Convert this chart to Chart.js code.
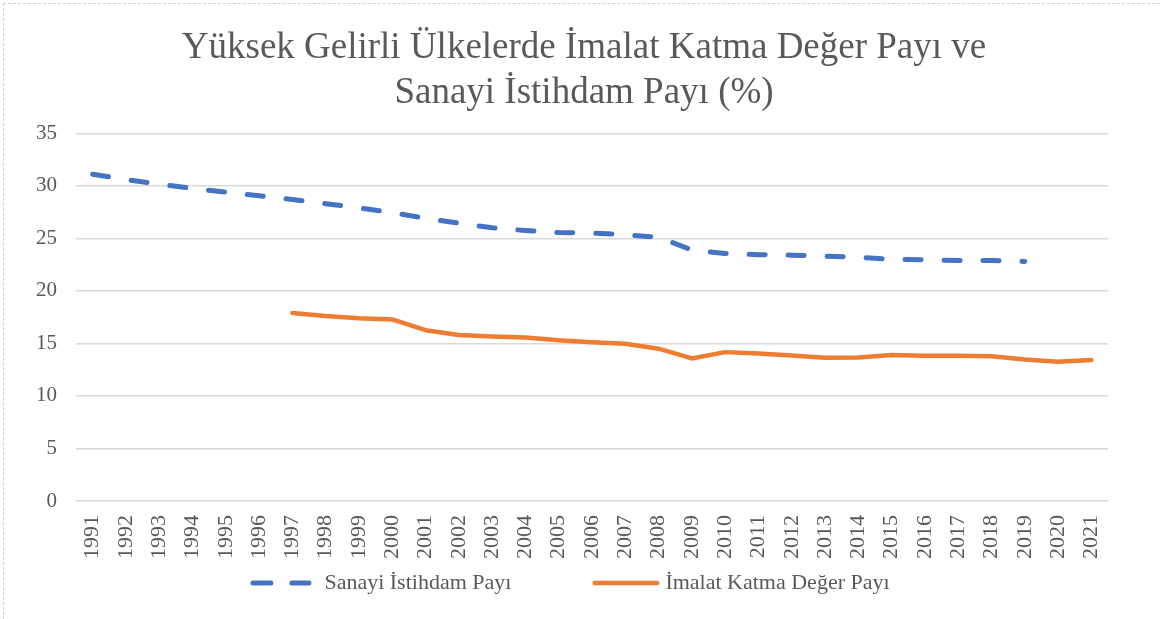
<!DOCTYPE html>
<html>
<head>
<meta charset="utf-8">
<script src="https://cdn.jsdelivr.net/npm/chart.js@4/dist/chart.umd.min.js"></script>
<style>
  html, body { margin: 0; padding: 0; background: #fff; overflow: hidden; }
  .wrap { position: relative; width: 1161px; height: 619px; }
  .frame { position: absolute; left: 3px; top: 3px; width: 1200px; height: 700px; border: 1px dashed #d0d0d0; }
  canvas { position: absolute; left: 0; top: 0; }
</style>
</head>
<body>
<div class="wrap">
  <div class="frame"></div>
  <canvas id="chart" width="1161" height="619"></canvas>
</div>
<script>
// Data
const years = ['1991','1992','1993','1994','1995','1996','1997','1998','1999','2000',
  '2001','2002','2003','2004','2005','2006','2007','2008','2009','2010',
  '2011','2012','2013','2014','2015','2016','2017','2018','2019','2020','2021'];

const sanayiIstihdam = [31.1, 30.6, 30.15, 29.75, 29.4, 29.05, 28.7, 28.3, 27.9, 27.45,
  26.9, 26.45, 26.0, 25.75, 25.55, 25.5, 25.35, 25.1, 23.9, 23.55,
  23.45, 23.4, 23.3, 23.2, 23.0, 22.95, 22.9, 22.9, 22.8, null, null];

const imalatKatmaDeger = [null, null, null, null, null, null, 17.9, 17.6, 17.4, 17.28,
  16.26, 15.8, 15.66, 15.57, 15.3, 15.12, 14.96, 14.5, 13.57, 14.17,
  14.05, 13.86, 13.63, 13.66, 13.89, 13.82, 13.82, 13.78, 13.47, 13.25, 13.41];

const yTicks = [0, 5, 10, 15, 20, 25, 30, 35];

const textColor = '#595959';
const serif = "'Liberation Serif', 'Times New Roman', serif";

// Excel-style legend under the axis labels (wide gap between items)
const bottomLegend = {
  id: 'bottomLegend',
  afterDraw(chart) {
    const ctx = chart.ctx;
    const y = 583, centerX = 570, itemGap = 81;
    const samples = [61, 67], textGaps = [13, 6];
    ctx.save();
    ctx.font = '22px ' + serif;
    ctx.textBaseline = 'middle';
    const items = chart.data.datasets.map((ds, i) => ({
      ds, w: samples[i] + textGaps[i] + ctx.measureText(ds.label).width
    }));
    const total = items.reduce((s, it) => s + it.w, 0) + itemGap * (items.length - 1);
    let x = centerX - total / 2;
    items.forEach((it, i) => {
      const lw = it.ds.borderWidth;
      ctx.beginPath();
      ctx.strokeStyle = it.ds.borderColor;
      ctx.lineWidth = lw;
      ctx.lineCap = 'round';
      ctx.setLineDash(it.ds.borderDash ? [18, 21] : []);
      ctx.moveTo(x + lw / 2, y);
      ctx.lineTo(x + samples[i] - lw / 2, y);
      ctx.stroke();
      ctx.setLineDash([]);
      ctx.fillStyle = textColor;
      ctx.fillText(it.ds.label, x + samples[i] + textGaps[i], y);
      x += it.w + itemGap;
    });
    ctx.restore();
  }
};

const ctx = document.getElementById('chart');
new Chart(ctx, {
  type: 'line',
  data: {
    labels: years,
    datasets: [
      {
        label: 'Sanayi İstihdam Payı',
        data: sanayiIstihdam,
        borderColor: '#4472C4',
        backgroundColor: '#4472C4',
        borderWidth: 5,
        borderDash: [16, 23],
        borderCapStyle: 'round',
        pointRadius: 0,
        tension: 0
      },
      {
        label: 'İmalat Katma Değer Payı',
        data: imalatKatmaDeger,
        borderColor: '#ED7D31',
        backgroundColor: '#ED7D31',
        borderWidth: 4.5,
        borderCapStyle: 'round',
        borderJoinStyle: 'round',
        pointRadius: 0,
        tension: 0
      }
    ]
  },
  options: {
    responsive: false,
    animation: false,
    layout: { padding: { left: 33, right: 26, top: 0, bottom: 58 } },
    plugins: {
      title: {
        display: true,
        text: ['Yüksek Gelirli Ülkelerde İmalat Katma Değer Payı ve', 'Sanayi İstihdam Payı (%)'],
        color: textColor,
        font: { family: serif, size: 37, weight: 'normal', lineHeight: 1.22 },
        padding: { top: 26, bottom: 17 }
      },
      legend: { display: false },
      tooltip: { enabled: false }
    },
    scales: {
      x: {
        offset: true,
        afterFit: scale => { scale.height = 60; },
        grid: { display: false, drawTicks: false },
        border: { display: false },
        ticks: {
          color: textColor,
          font: { family: serif, size: 22 },
          minRotation: 90,
          maxRotation: 90,
          autoSkip: false,
          padding: 14
        }
      },
      y: {
        min: 0,
        max: 35,
        afterFit: scale => { scale.width = 43; },
        afterBuildTicks: scale => { scale.ticks = yTicks.map(v => ({ value: v })); },
        grid: { color: '#d9d9d9', lineWidth: 1.5, drawTicks: false },
        border: { display: false },
        ticks: {
          color: textColor,
          font: { family: serif, size: 21 },
          padding: 19
        }
      },
      // empty spacer on the right so the title centres like the original
      spacer: {
        type: 'linear',
        position: 'right',
        afterFit: scale => { scale.width = 27; },
        grid: { display: false, drawTicks: false },
        border: { display: false },
        ticks: { display: false }
      }
    }
  },
  plugins: [bottomLegend]
});
</script>
</body>
</html>
